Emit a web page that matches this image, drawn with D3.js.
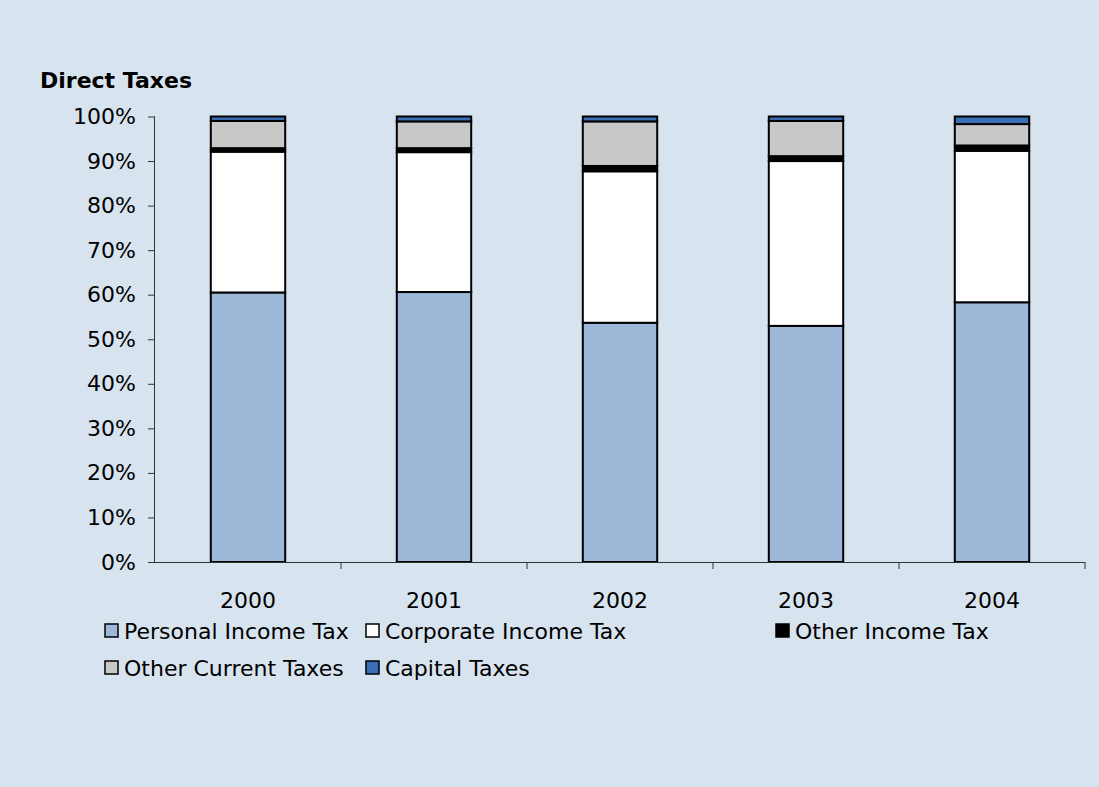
<!DOCTYPE html>
<html>
<head>
<meta charset="utf-8">
<script src="https://cdn.jsdelivr.net/npm/d3@7"></script>
<style>
  html, body { margin: 0; padding: 0; background: #d7e3ef; }
  svg { display: block; }
</style>
</head>
<body>
<svg id="chart" width="1099" height="787"></svg>
<script>
// Share of direct taxes by type, per year (percent of total)
const years = ["2000", "2001", "2002", "2003", "2004"];
const seriesNames = ["Personal Income Tax", "Corporate Income Tax", "Other Income Tax", "Other Current Taxes", "Capital Taxes"];
const personalIncomeTax  = [60.5, 60.6, 53.7, 53.0, 58.3];
const corporateIncomeTax = [31.6, 31.4, 34.0, 37.0, 34.0];
const otherIncomeTax     = [0.8, 0.9, 1.2, 1.1, 1.2];
const otherCurrentTaxes  = [6.1, 6.0, 10.0, 7.9, 4.8];
const capitalTaxes       = [1.0, 1.1, 1.1, 1.0, 1.7];
const yTicks = [0, 10, 20, 30, 40, 50, 60, 70, 80, 90, 100];
const seriesColors = ["#9eb8d9", "#ffffff", "#000000", "#c8c8c8", "#3a6db3"];

const allSeries = [personalIncomeTax, corporateIncomeTax, otherIncomeTax, otherCurrentTaxes, capitalTaxes];
const rows = years.map((yr, i) => {
  const r = { year: yr };
  seriesNames.forEach((n, k) => { r[n] = allSeries[k][i]; });
  return r;
});
// Normalise each year to 100%
const stack = d3.stack().keys(seriesNames).offset(d3.stackOffsetExpand);
const layers = stack(rows);

const svg = d3.select("#chart");
const font = "Tahoma, 'DejaVu Sans', Verdana, sans-serif";
const fontSize = 22;

svg.append("rect").attr("width", 1099).attr("height", 787).attr("fill", "#d7e3ef");

const plotLeft = 155, plotRight = 1085, plotTop = 116.5, plotBottom = 562;

const x = d3.scaleBand().domain(years).range([plotLeft, plotRight]).paddingInner(0.6).paddingOuter(0.3);
const xOuter = d3.scaleBand().domain(years).range([plotLeft, plotRight]);
const y = d3.scaleLinear().domain([0, 1]).range([plotBottom, plotTop]);

// Title
svg.append("text").attr("x", 40).attr("y", 88)
  .attr("font-family", font).attr("font-weight", "bold").attr("font-size", fontSize)
  .attr("fill", "#000").text("Direct Taxes");

// Stacked bars
svg.append("g").selectAll("g").data(layers).join("g")
  .attr("fill", (d, i) => seriesColors[i])
  .selectAll("rect").data(d => d).join("rect")
  .attr("x", d => x(d.data.year))
  .attr("width", x.bandwidth())
  .attr("y", d => y(d[1]))
  .attr("height", d => y(d[0]) - y(d[1]))
  .attr("stroke", "#000").attr("stroke-width", 2);

// Y axis
const yAxis = svg.append("g").attr("transform", `translate(${plotLeft},0)`)
  .call(d3.axisLeft(y).tickValues(yTicks.map(v => v / 100)).tickFormat(v => Math.round(v * 100) + "%").tickSize(7).tickPadding(12));
yAxis.select(".domain").attr("stroke", "#333").attr("d", `M-0.5,${plotTop}V${plotBottom}`);
yAxis.selectAll(".tick line").attr("stroke", "#333");
yAxis.selectAll(".tick text").attr("font-family", font).attr("font-size", fontSize).attr("fill", "#000");

// X axis with ticks at category boundaries
const xAxis = svg.append("g").attr("transform", `translate(0,${plotBottom})`)
  .call(d3.axisBottom(xOuter).tickSize(0).tickPadding(30));
xAxis.select(".domain").attr("stroke", "#333").attr("d", `M${plotLeft},0.5H${plotRight}`);
xAxis.selectAll(".tick text").attr("font-family", font).attr("font-size", fontSize).attr("fill", "#000");
svg.append("g").selectAll("line").data(years).join("line")
  .attr("x1", d => xOuter(d) + xOuter.bandwidth()).attr("x2", d => xOuter(d) + xOuter.bandwidth())
  .attr("y1", plotBottom).attr("y2", plotBottom + 7).attr("stroke", "#333");

// Legend
const legendPos = [[105, 631], [366, 631], [776, 631], [105, 668], [366, 668]];
const lg = svg.append("g").selectAll("g").data(seriesNames).join("g")
  .attr("transform", (d, i) => `translate(${legendPos[i][0]},${legendPos[i][1]})`);
lg.append("rect").attr("x", 0).attr("y", -7).attr("width", 13).attr("height", 13)
  .attr("fill", (d, i) => seriesColors[i]).attr("stroke", "#000").attr("stroke-width", 1.5);
lg.append("text").attr("x", 19).attr("y", 8)
  .attr("font-family", font).attr("font-size", fontSize).attr("fill", "#000").text(d => d);
</script>
</body>
</html>
